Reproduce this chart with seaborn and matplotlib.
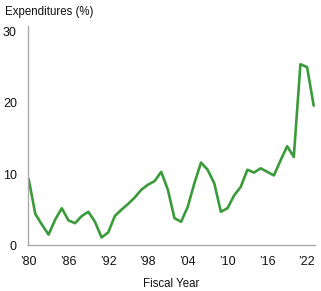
import matplotlib
matplotlib.use("Agg")
import matplotlib.pyplot as plt
import seaborn as sns
import pandas as pd

years = list(range(1980, 2024))
expenditures = [9.3, 4.4, 2.9, 1.5, 3.6, 5.2, 3.5, 3.1, 4.1, 4.7, 3.3, 1.1,
                1.8, 4.1, 5.0, 5.8, 6.7, 7.8, 8.5, 9.0, 10.3, 7.8, 3.8, 3.3,
                5.4, 8.7, 11.6, 10.6, 8.7, 4.7, 5.2, 7.0, 8.2, 10.6, 10.2, 10.8,
                10.3, 9.8, 11.9, 13.9, 12.4, 25.4, 25.0, 19.6]
tick_years = [1980, 1986, 1992, 1998, 2004, 2010, 2016, 2022]
tick_labels = ["\u201980", "\u201986", "\u201992", "\u201998", "\u201904", "\u201910", "\u201916", "\u201922"]
y_ticks = [0, 10, 20, 30]

df = pd.DataFrame({"year": years, "value": expenditures})

sns.set_style("white")
plt.rcParams['font.family'] = ['Liberation Sans Narrow', 'Liberation Sans', 'DejaVu Sans']

fig = plt.figure(figsize=(3.21, 2.91), dpi=100)
ax = fig.add_axes([28/321, 1-245.3/291, (315-28)/321, (245.3-26)/291])
sns.lineplot(data=df, x="year", y="value", ax=ax, color="#3b9a3a", linewidth=1.9)

ax.set_xlim(1979.9, 2023.2)
ax.set_ylim(0, 30.76)
ax.set_xticks(tick_years)
ax.set_xticklabels(tick_labels)
ax.set_yticks(y_ticks)
ax.tick_params(axis="both", length=0, labelsize=9, colors="#111111")
ax.tick_params(axis="x", pad=8)
ax.tick_params(axis="y", pad=8)
for s in ["top", "right"]:
    ax.spines[s].set_visible(False)
for s in ["left", "bottom"]:
    ax.spines[s].set_color("#aaaaaa")
    ax.spines[s].set_linewidth(1.0)
ax.set_xlabel("Fiscal Year", fontsize=8.3, color="#111111", labelpad=7)
ax.set_ylabel("")
fig.text(5/321, 1-12.5/291, "Expenditures (%)", fontsize=8.3, color="#111111", va="center", ha="left")

fig.savefig("out.png", dpi=100)
